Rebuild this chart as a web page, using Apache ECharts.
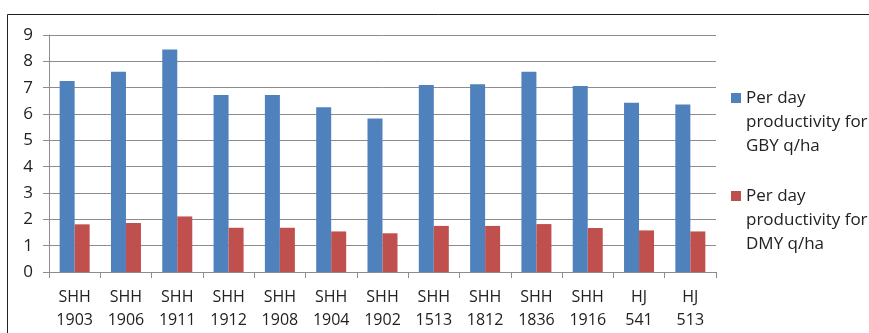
<!DOCTYPE html>
<html>
<head>
<meta charset="utf-8">
<script src="https://cdn.jsdelivr.net/npm/echarts@6/dist/echarts.min.js"></script>
<style>
  html, body { margin: 0; padding: 0; background: #fff; }
  #chart { width: 869px; height: 333px; }
</style>
</head>
<body>
<div id="chart"></div>
<script>
    // varieties on the x axis
    var categories = ['SHH\n1903', 'SHH\n1906', 'SHH\n1911', 'SHH\n1912', 'SHH\n1908', 'SHH\n1904', 'SHH\n1902',
                      'SHH\n1513', 'SHH\n1812', 'SHH\n1836', 'SHH\n1916', 'HJ\n541', 'HJ\n513'];
    var gbyValues = [7.25, 7.6, 8.45, 6.72, 6.72, 6.26, 5.83, 7.1, 7.13, 7.6, 7.06, 6.43, 6.36];
    var dmyValues = [1.81, 1.86, 2.11, 1.68, 1.68, 1.54, 1.47, 1.75, 1.75, 1.82, 1.67, 1.58, 1.54];
    var seriesNames = ['Per day productivity for GBY q/ha', 'Per day productivity for DMY q/ha'];

    var font = 'Open Sans, Liberation Sans, sans-serif';
    var gray = '#8c8c8c';
    var textColor = '#222';

    // legend shows only the first line next to the square, the rest is drawn below it
    function legendLine(name) {
        return name.split(' productivity')[0];
    }
    function legendRest(name) {
        return 'productivity' + name.split(' productivity')[1].replace(' for ', ' for\n');
    }

    var option = {
        animation: false,
        textStyle: { fontFamily: font },
        grid: {
            left: 49,
            right: 153,
            top: 35,
            bottom: 61
        },
        legend: {
            orient: 'vertical',
            left: 731,
            top: 86,
            padding: 0,
            itemWidth: 10,
            itemHeight: 10,
            itemGap: 74,
            icon: 'rect',
            formatter: legendLine,
            textStyle: { fontSize: 17, color: textColor, lineHeight: 24, fontFamily: font },
            data: seriesNames
        },
        xAxis: {
            type: 'category',
            data: categories,
            axisLine: { lineStyle: { color: gray, width: 1 } },
            axisTick: { show: true, length: 6, lineStyle: { color: gray } },
            axisLabel: { color: textColor, fontSize: 16, lineHeight: 23, margin: 14, interval: 0 }
        },
        yAxis: {
            type: 'value',
            min: 0,
            max: 9,
            interval: 1,
            axisLine: { show: true, lineStyle: { color: gray } },
            axisTick: { show: true, length: 6, lineStyle: { color: gray } },
            axisLabel: { color: textColor, fontSize: 17, margin: 16 },
            splitLine: { lineStyle: { color: gray, width: 1 } }
        },
        series: [{
            name: seriesNames[0],
            type: 'bar',
            barWidth: 15,
            barGap: '0%',
            data: gbyValues,
            itemStyle: { color: '#4f81bd' }
        }, {
            name: seriesNames[1],
            type: 'bar',
            barWidth: 15,
            barGap: '0%',
            data: dmyValues,
            itemStyle: { color: '#c0504d' }
        }],
        graphic: [{
            // chart frame, runs past the right and bottom edge
            type: 'rect',
            shape: { x: 7.5, y: 14.5, width: 900, height: 400 },
            style: { fill: null, stroke: '#222', lineWidth: 1 },
            silent: true
        }, {
            type: 'text',
            left: 746,
            top: 110,
            style: { text: legendRest(seriesNames[0]), fill: textColor, font: '17px ' + font, lineHeight: 24 },
            silent: true
        }, {
            type: 'text',
            left: 746,
            top: 208,
            style: { text: legendRest(seriesNames[1]), fill: textColor, font: '17px ' + font, lineHeight: 24 },
            silent: true
        }]
    };

    var chart = echarts.init(document.getElementById('chart'));
    chart.setOption(option);
</script>
</body>
</html>
